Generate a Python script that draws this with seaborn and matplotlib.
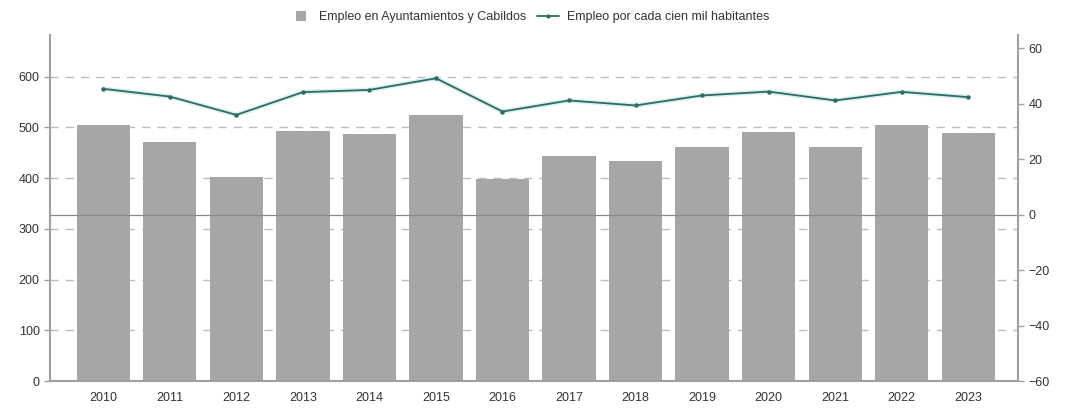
import matplotlib
matplotlib.use("Agg")
import matplotlib.pyplot as plt
from matplotlib.lines import Line2D
import seaborn as sns
import pandas as pd

years = ["2010", "2011", "2012", "2013", "2014", "2015", "2016",
         "2017", "2018", "2019", "2020", "2021", "2022", "2023"]
empleo = [504, 472, 402, 492, 486, 524, 398, 444, 433, 461, 490, 461, 504, 488]
por_cien_mil = [45.4, 42.6, 36.0, 44.2, 45.0, 49.2, 37.2, 41.2, 39.4, 43.0, 44.4, 41.2, 44.3, 42.4]

left_ticks = [0, 100, 200, 300, 400, 500, 600]
right_ticks = [-60, -40, -20, 0, 20, 40, 60]

df = pd.DataFrame({"year": years, "empleo": empleo, "ratio": por_cien_mil})

sns.set_style("white")
plt.rcParams["font.family"] = ["Liberation Sans", "DejaVu Sans"]

bar_color = "#a6a6a6"
line_color = "#2f6b5f"
text_color = "#333333"
spine_color = "#a0a0a0"

fig, ax = plt.subplots(figsize=(10.65, 4.12), dpi=100)
fig.subplots_adjust(left=0.047, right=0.956, bottom=0.075, top=0.915)

sns.barplot(data=df, x="year", y="empleo", color=bar_color, width=0.8,
            saturation=1, ax=ax, linewidth=0, zorder=2)
ax.set_ylim(0, 682)
ax.set_xlim(-0.8, 13.75)
ax.set_yticks(left_ticks)
ax.yaxis.grid(True, linestyle=(0, (6, 5)), color="#bdbdbd", linewidth=1)
ax.set_axisbelow(True)
ax.set_xlabel("")
ax.set_ylabel("")

ax2 = ax.twinx()
sns.pointplot(data=df, x="year", y="ratio", color=line_color, markers="o",
              markersize=3.2, linewidth=1.3, ax=ax2)
for ln in ax2.lines:
    ln.set_markeredgewidth(0)
    # faint light glow under the line, as in the original
    xy = ln.get_xydata()
    ax2.plot(xy[:, 0], xy[:, 1], color="#d8f1f1", linewidth=3.5, zorder=ln.get_zorder() - 0.1)
ax2.axhline(0, color="#8a8a8a", linewidth=0.9, zorder=1)
ax2.set_ylim(-60, 64.8)
ax2.set_yticks(right_ticks)
ax2.set_xlim(-0.8, 13.75)
ax2.set_xlabel("")
ax2.set_ylabel("")

for a in (ax, ax2):
    a.spines["top"].set_visible(False)
    for side in ("left", "right", "bottom"):
        a.spines[side].set_color(spine_color)
        a.spines[side].set_linewidth(1.5)
    a.tick_params(axis="both", colors=spine_color, labelcolor=text_color,
                  labelsize=9, length=4, width=1, direction="out")
ax.spines["right"].set_visible(False)
ax2.spines["left"].set_visible(False)
ax2.spines["bottom"].set_visible(False)

handles = [
    Line2D([], [], linestyle="none", marker="s", markersize=7,
           markerfacecolor=bar_color, markeredgewidth=0),
    Line2D([], [], color=line_color, linewidth=1.3, marker="o",
           markersize=3, markeredgewidth=0),
]
labels = ["Empleo en Ayuntamientos y Cabildos", "Empleo por cada cien mil habitantes"]
fig.legend(handles, labels, loc="upper center", bbox_to_anchor=(0.497, 1.0),
           ncol=2, frameon=False, fontsize=9, handlelength=1.8,
           columnspacing=0.8, handletextpad=0.6, labelcolor=text_color)

fig.savefig("out.png", dpi=100)
plt.close(fig)
